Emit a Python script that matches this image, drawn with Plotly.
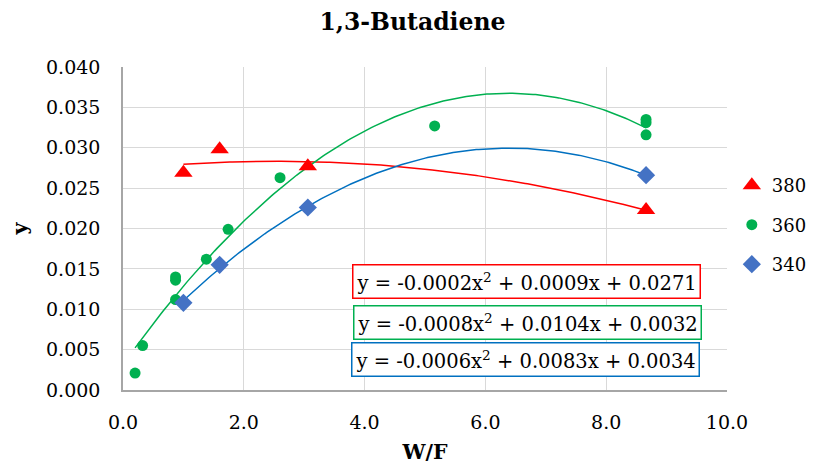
import numpy as np
import plotly.graph_objects as go

# ---- data ----
x380 = [1.0, 1.6, 3.06, 8.66]
y380 = [0.0269, 0.0298, 0.0277, 0.0223]

x360 = [0.2, 0.325, 0.87, 0.87, 0.87, 1.38, 1.74, 2.6, 5.16, 8.66, 8.66, 8.66]
y360 = [0.0021, 0.0055, 0.0112, 0.0136, 0.0140, 0.0162, 0.0199, 0.0263, 0.0327, 0.0335, 0.0331, 0.0316]

x340 = [1.0, 1.6, 3.06, 8.66]
y340 = [0.0108, 0.0155, 0.0226, 0.0266]

series_names = ["380", "360", "340"]
equations = [
    "y = -0.0002x<sup>2</sup> + 0.0009x + 0.0271",
    "y = -0.0008x<sup>2</sup> + 0.0104x + 0.0032",
    "y = -0.0006x<sup>2</sup> + 0.0083x + 0.0034",
]
x_ticks = [0, 2, 4, 6, 8, 10]
y_ticks = [0.0, 0.005, 0.01, 0.015, 0.02, 0.025, 0.03, 0.035, 0.04]

marker_colors = ["#FF0000", "#00B050", "#4472C4"]
line_colors = ["#FF0000", "#00B050", "#0070C0"]
symbols = ["triangle-up", "circle", "diamond"]
sizes = [16, 11, 14]

FONT = "DejaVu Serif"

fig = go.Figure()
datasets = [(x380, y380), (x360, y360), (x340, y340)]

# 2nd-order polynomial trendlines over each series' x range
for i, (xs, ys) in enumerate(datasets):
    c = np.polyfit(xs, ys, 2)
    xx = np.linspace(min(xs), max(xs), 200)
    fig.add_trace(go.Scatter(x=xx, y=np.polyval(c, xx), mode="lines",
                             line=dict(color=line_colors[i], width=1.5),
                             showlegend=False, hoverinfo="skip"))

for i, (xs, ys) in enumerate(datasets):
    fig.add_trace(go.Scatter(x=xs, y=ys, mode="markers", name=series_names[i],
                             legendgroup=series_names[i],
                             marker=dict(symbol=symbols[i], size=sizes[i],
                                         color=marker_colors[i],
                                         line=dict(width=0))))

eq_pos = [(0.668, 0.336), (0.670, 0.209), (0.6664, 0.093)]
for i, eq in enumerate(equations):
    fig.add_annotation(x=eq_pos[i][0], y=eq_pos[i][1], xref="paper", yref="paper",
                       xanchor="center", yanchor="middle",
                       text=eq, showarrow=False,
                       font=dict(family=FONT, size=19.5, color="black"),
                       bordercolor=line_colors[i], borderwidth=1.5, borderpad=3,
                       bgcolor="white")

# the page body adds an 8px offset, so the figure is sized to compensate
fig.update_layout(
    width=809, height=456,
    margin=dict(l=115, r=90, t=59, b=74, autoexpand=False),
    paper_bgcolor="white", plot_bgcolor="white",
    font=dict(family=FONT, size=19, color="black"),
    title=dict(text="<b>1,3-Butadiene</b>", x=0.5, xanchor="center",
               y=0.97, yanchor="middle", font=dict(family=FONT, size=23.5)),
    legend=dict(x=1.008, y=0.69, xanchor="left", yanchor="top",
                font=dict(family=FONT, size=18), tracegroupgap=13,
                itemwidth=30, borderwidth=0, bgcolor="rgba(0,0,0,0)"),
    xaxis=dict(range=[0, 10], tickvals=x_ticks, tickformat=".1f",
               showgrid=True, gridcolor="#D9D9D9", gridwidth=1.3,
               showline=True, linecolor="#A6A6A6", linewidth=1.5,
               zeroline=False, ticks="", ticklabelstandoff=14,
               tickfont=dict(size=19),
               title=dict(text="<b>W/F</b>", font=dict(size=20.5), standoff=17)),
    yaxis=dict(range=[0, 0.04], tickvals=y_ticks, tickformat=".3f",
               showgrid=True, gridcolor="#D9D9D9", gridwidth=1.3,
               showline=True, linecolor="#A6A6A6", linewidth=1.5,
               zeroline=False, ticks="", ticklabelstandoff=17,
               tickfont=dict(size=19),
               title=dict(text="<b>y</b>", font=dict(size=20.5), standoff=24)),
)

fig.write_html("out.html")
